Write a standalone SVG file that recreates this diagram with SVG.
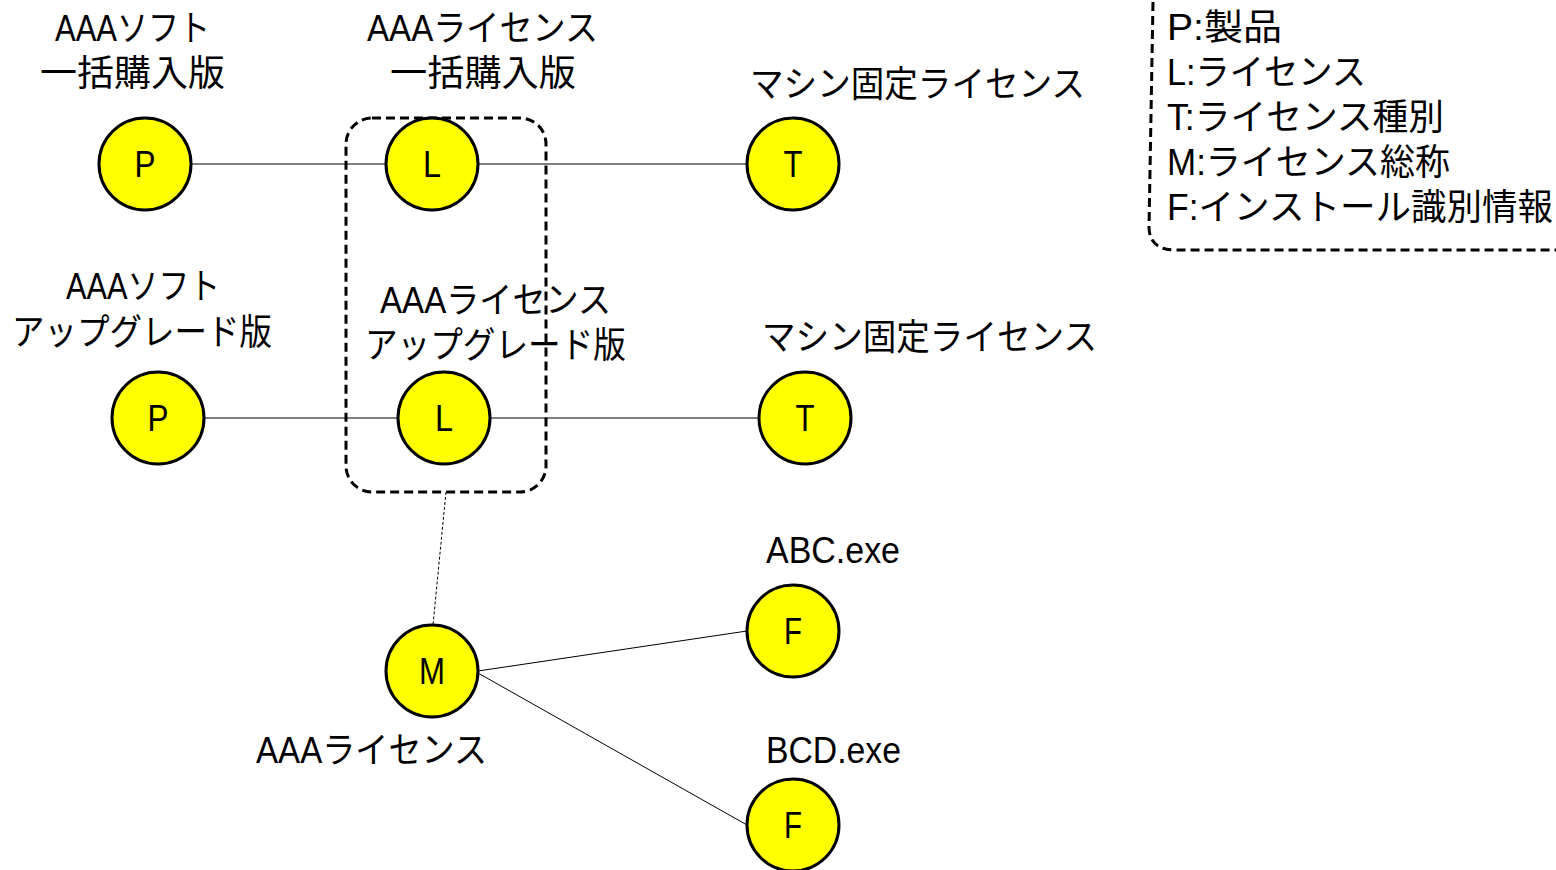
<svg xmlns="http://www.w3.org/2000/svg" width="1556" height="870" viewBox="0 0 1556 870">
<style>
text{font-family:"Liberation Sans","Noto Sans CJK JP",sans-serif;font-size:36px;fill:#000}
.c{text-anchor:middle}
.node circle{fill:#ffff00;stroke:#000;stroke-width:3}
.node text{text-anchor:middle;font-size:37px}
.edge{stroke:#000;stroke-width:1;fill:none}
.dash{stroke:#000;stroke-width:3;fill:none;stroke-dasharray:9,5}
</style>
<rect width="1556" height="870" fill="#fff"/>
<g id="connectors">
<line class="edge" x1="191" y1="164" x2="386" y2="164"/>
<line class="edge" x1="478" y1="164" x2="747" y2="164"/>
<line class="edge" x1="204" y1="418" x2="398" y2="418"/>
<line class="edge" x1="490" y1="418" x2="759" y2="418"/>
<line class="edge" x1="446" y1="492" x2="433" y2="625" stroke-dasharray="3,2"/>
<line class="edge" x1="478" y1="671" x2="747" y2="631"/>
<line class="edge" x1="478" y1="673" x2="747" y2="825"/>
</g>
<g id="group-box"><rect class="dash" x="346" y="118" width="200" height="374" rx="26"/></g>
<g id="P1" class="node"><circle cx="145" cy="164" r="46"/><text x="145" y="177" textLength="21" lengthAdjust="spacingAndGlyphs">P</text></g>
<g id="L1" class="node"><circle cx="432" cy="164" r="46"/><text x="432" y="177" textLength="18" lengthAdjust="spacingAndGlyphs">L</text></g>
<g id="T1" class="node"><circle cx="793" cy="164" r="46"/><text x="793" y="177" textLength="19" lengthAdjust="spacingAndGlyphs">T</text></g>
<g id="P2" class="node"><circle cx="158" cy="418" r="46"/><text x="158" y="431" textLength="21" lengthAdjust="spacingAndGlyphs">P</text></g>
<g id="L2" class="node"><circle cx="444" cy="418" r="46"/><text x="444" y="431" textLength="18" lengthAdjust="spacingAndGlyphs">L</text></g>
<g id="T2" class="node"><circle cx="805" cy="418" r="46"/><text x="805" y="431" textLength="19" lengthAdjust="spacingAndGlyphs">T</text></g>
<g id="M" class="node"><circle cx="432" cy="671" r="46"/><text x="432" y="684" textLength="26" lengthAdjust="spacingAndGlyphs">M</text></g>
<g id="F1" class="node"><circle cx="793" cy="631" r="46"/><text x="793" y="644" textLength="18" lengthAdjust="spacingAndGlyphs">F</text></g>
<g id="F2" class="node"><circle cx="793" cy="825" r="46"/><text x="793" y="838" textLength="18" lengthAdjust="spacingAndGlyphs">F</text></g>
<g id="labels">
<text x="55" y="41" textLength="155" lengthAdjust="spacingAndGlyphs">AAAソフト</text>
<text x="40" y="86" textLength="185" lengthAdjust="spacingAndGlyphs">一括購入版</text>
<text x="367" y="41" textLength="231" lengthAdjust="spacingAndGlyphs">AAAライセンス</text>
<text x="390" y="86" textLength="186" lengthAdjust="spacingAndGlyphs">一括購入版</text>
<text x="750" y="97" textLength="335" lengthAdjust="spacingAndGlyphs">マシン固定ライセンス</text>
<text x="66" y="299" textLength="154" lengthAdjust="spacingAndGlyphs">AAAソフト</text>
<text x="12" y="345" textLength="260" lengthAdjust="spacingAndGlyphs">アップグレード版</text>
<text x="380" y="313" textLength="231" lengthAdjust="spacingAndGlyphs">AAAライセンス</text>
<text x="365" y="358" textLength="261" lengthAdjust="spacingAndGlyphs">アップグレード版</text>
<text x="762" y="350" textLength="335" lengthAdjust="spacingAndGlyphs">マシン固定ライセンス</text>
<text x="766" y="563" textLength="134" lengthAdjust="spacingAndGlyphs">ABC.exe</text>
<text x="766" y="763" textLength="135" lengthAdjust="spacingAndGlyphs">BCD.exe</text>
<text x="256" y="763" textLength="231" lengthAdjust="spacingAndGlyphs">AAAライセンス</text>
</g>
<g id="legend">
<path class="dash" d="M1153,2 L1149,228 Q1150,250 1175,250 L1556,250"/>
<text x="1167" y="40" textLength="115" lengthAdjust="spacingAndGlyphs">P:製品</text>
<text x="1167" y="85" textLength="199" lengthAdjust="spacingAndGlyphs">L:ライセンス</text>
<text x="1167" y="130" textLength="277" lengthAdjust="spacingAndGlyphs">T:ライセンス種別</text>
<text x="1167" y="175" textLength="283" lengthAdjust="spacingAndGlyphs">M:ライセンス総称</text>
<text x="1167" y="220" textLength="386" lengthAdjust="spacingAndGlyphs">F:インストール識別情報</text>
</g>
</svg>
